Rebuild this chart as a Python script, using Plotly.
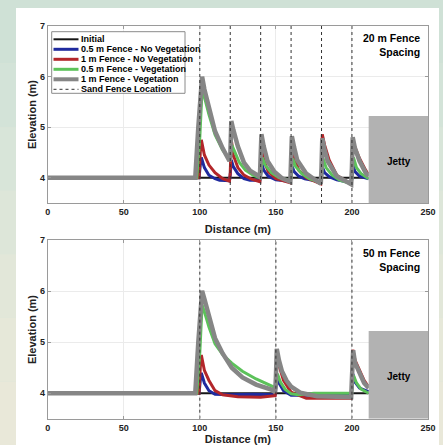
import plotly.graph_objects as go

W, H = 443, 445

# ---------------- data ----------------
x_init = [0, 211]
y_init = [4.0, 4.0]

# 20 m fence spacing
fence20 = [100, 120, 140, 160, 180, 200]
x20_gray = [0, 97, 99, 101.5, 103, 106, 110, 115, 119.5, 120, 120.7, 122, 125, 129, 133, 139.5, 140, 140.5, 142,
            144.5, 149, 154, 159.5, 160, 160.5, 162, 164, 170, 179.5, 180, 180.5, 182, 184, 190, 199.5, 200, 200.5,
            202, 205, 209, 211]
y20_gray = [4.0, 4.0, 5.0, 6.0, 5.75, 5.37, 4.92, 4.58, 4.33, 4.4, 5.12, 4.95, 4.62, 4.3, 4.14, 4.02, 4.3, 4.86, 4.62,
            4.33, 4.12, 3.99, 3.92, 4.2, 4.82, 4.6, 4.35, 4.08, 3.88, 4.2, 4.78, 4.55, 4.33, 4.03, 3.87, 4.2, 4.8,
            4.58, 4.33, 4.1, 4.03]
x20_green = [0, 98, 100, 101.5, 103, 106, 110, 115, 119.5, 120, 121, 123, 126, 130, 135, 139.5, 140, 141, 143, 147,
             152, 159.5, 160, 161, 163, 167, 172, 179.5, 180, 181, 183, 187, 192, 199.5, 200, 201, 203, 206, 211]
y20_green = [4.0, 4.0, 4.8, 5.75, 5.6, 5.25, 4.85, 4.55, 4.36, 4.4, 4.65, 4.5, 4.3, 4.15, 4.05, 4.0, 4.05, 4.4, 4.25,
             4.1, 4.0, 3.95, 4.0, 4.38, 4.22, 4.08, 3.98, 3.9, 4.0, 4.38, 4.2, 4.05, 3.95, 3.88, 4.0, 4.4, 4.2, 4.08,
             3.98]
x20_red = [0, 99.5, 100.3, 101, 103, 106, 110, 115, 119.5, 120, 120.7, 122, 125, 129, 134, 139.5, 140, 140.5, 142,
           145, 150, 159.5, 160, 160.5, 162, 165, 170, 179.5, 180, 180.5, 182, 185, 190, 199.5, 200, 200.5, 202, 205,
           209, 211]
y20_red = [4.0, 4.0, 4.5, 4.75, 4.45, 4.25, 4.1, 3.98, 3.93, 4.1, 4.75, 4.45, 4.2, 4.05, 3.97, 3.92, 4.1, 4.58, 4.35,
           4.12, 3.98, 3.9, 4.1, 4.6, 4.4, 4.15, 4.0, 3.88, 4.1, 4.86, 4.65, 4.35, 4.05, 3.87, 4.1, 4.75, 4.6, 4.38,
           4.15, 4.05]
x20_blue = [0, 99.5, 100.3, 101, 103, 106, 110, 113, 119.5, 120, 120.7, 122, 125, 129, 133, 139.5, 140, 140.7, 142,
            145, 150, 159.5, 160, 160.7, 162, 165, 169, 179.5, 180, 180.7, 182, 185, 190, 199.5, 200, 200.7, 202, 205,
            211]
y20_blue = [4.0, 4.0, 4.25, 4.4, 4.2, 4.05, 3.98, 3.95, 3.94, 4.05, 4.35, 4.22, 4.08, 3.98, 3.95, 3.95, 4.05, 4.28,
            4.15, 4.03, 3.96, 3.93, 4.03, 4.22, 4.12, 4.03, 3.98, 3.92, 4.0, 4.2, 4.1, 4.02, 3.96, 3.9, 4.0, 4.25,
            4.12, 4.03, 3.98]

# 50 m fence spacing
fence50 = [100, 150, 200]
x50_gray = [0, 97, 99, 101.5, 103, 106, 110, 115, 121, 128, 137, 147, 149.5, 150, 150.6, 152, 154, 157, 160, 166, 177,
            190, 199.5, 200, 200.8, 202, 205, 208, 211]
y50_gray = [4.0, 4.0, 5.0, 6.01, 5.85, 5.5, 5.08, 4.78, 4.5, 4.31, 4.17, 4.07, 4.02, 4.3, 4.87, 4.65, 4.43, 4.25,
            4.13, 4.01, 3.94, 3.93, 3.92, 4.3, 4.84, 4.6, 4.38, 4.2, 4.1]
x50_green = [0, 98, 100, 101.5, 103, 106, 110, 115, 121, 128, 137, 148, 149.8, 150.3, 151, 153, 156, 160, 165, 175,
             190, 199.8, 200.3, 201, 203, 206, 211]
y50_green = [4.0, 4.0, 4.8, 5.73, 5.6, 5.3, 4.97, 4.76, 4.59, 4.43, 4.28, 4.13, 4.08, 4.2, 4.38, 4.22, 4.08, 3.99,
             3.97, 4.0, 4.0, 4.0, 4.2, 4.35, 4.2, 4.08, 4.0]
x50_red = [0, 99.5, 100.3, 101, 103, 106, 110, 115, 125, 140, 149.5, 150, 150.6, 152, 155, 160, 170, 185, 199.5, 200,
           200.6, 202, 205, 208, 211]
y50_red = [4.0, 4.0, 4.5, 4.75, 4.45, 4.25, 4.05, 3.97, 3.93, 3.92, 3.95, 4.2, 4.82, 4.55, 4.25, 4.02, 3.9, 3.9, 3.9,
           4.2, 4.85, 4.65, 4.45, 4.25, 4.12]
x50_blue = [0, 99.5, 100.3, 101, 103, 106, 110, 120, 135, 149.5, 150, 150.6, 152, 155, 160, 170, 185, 199.5, 200,
            200.6, 202, 205, 211]
y50_blue = [4.0, 4.0, 4.25, 4.4, 4.2, 4.05, 3.98, 3.97, 3.98, 3.97, 4.1, 4.38, 4.2, 4.05, 3.96, 3.96, 3.98, 3.97, 4.1,
            4.38, 4.22, 4.1, 4.03]

jetty_x = [211, 250]
jetty_y = [3.5, 5.22]
y_range = [3.5, 7]
x_range = [0, 250]
x_ticks = [0, 50, 100, 150, 200, 250]
y_ticks = [4, 5, 6, 7]

series_names = ["Initial", "0.5 m Fence - No Vegetation", "1 m Fence - No Vegetation",
                "0.5 m Fence - Vegetation", "1 m Fence - Vegetation", "Sand Fence Location"]
colors = ["#161616", "#1f2a9e", "#b3262a", "#5cc25a", "#868686", "#333333"]
widths = [2, 3, 3, 3, 4.5, 1]

FONT = "Liberation Sans, Arial, sans-serif"

# ---------------- figure ----------------
fig = go.Figure()


def add_panel(xa, ya, fences, data):
    fx, fy = [], []
    for f in fences:
        fx += [f, f, None]
        fy += [y_range[0], y_range[1], None]
    fig.add_trace(go.Scatter(x=x_init, y=y_init, mode="lines", xaxis=xa, yaxis=ya, showlegend=False,
                             line=dict(color=colors[0], width=widths[0]), name=series_names[0]))
    for i, (xs, ys) in enumerate(data):
        fig.add_trace(go.Scatter(x=xs, y=ys, mode="lines", xaxis=xa, yaxis=ya, showlegend=False,
                                 line=dict(color=colors[i + 1], width=widths[i + 1]), name=series_names[i + 1]))
    fig.add_trace(go.Scatter(x=fx, y=fy, mode="lines", xaxis=xa, yaxis=ya, showlegend=False,
                             line=dict(color=colors[5], width=widths[5], dash="dot"), name=series_names[5]))


add_panel("x", "y", fence20, [(x20_blue, y20_blue), (x20_red, y20_red), (x20_green, y20_green),
                              (x20_gray, y20_gray)])
add_panel("x2", "y2", fence50, [(x50_blue, y50_blue), (x50_red, y50_red), (x50_green, y50_green),
                                (x50_gray, y50_gray)])


def px(x):
    return x / W


def py(y):
    return 1 - y / H


shapes = []
bands = ["#cfe1d6", "#d3e3d8", "#d8e5d9", "#dde6d9", "#e2e7d9", "#e6e8d9", "#e9e8d9"]
n = len(bands)
for i, c in enumerate(bands):
    shapes.append(dict(type="rect", xref="paper", yref="paper", x0=0, x1=1,
                       y0=1 - (i + 1) / n, y1=1 - i / n, fillcolor=c, line=dict(width=0), layer="below"))
shapes.append(dict(type="rect", xref="paper", yref="paper", x0=px(16), x1=px(439), y0=0, y1=py(8),
                   fillcolor="white", line=dict(width=0), layer="below"))
for xr, yr in (("x", "y"), ("x2", "y2")):
    shapes.append(dict(type="rect", xref=xr, yref=yr, x0=jetty_x[0], x1=jetty_x[1], y0=jetty_y[0], y1=jetty_y[1],
                       fillcolor="#b2b2b2", line=dict(width=0), layer="above"))

# custom legend
lg_x0, lg_x1, lg_y0, lg_y1 = 51.7, 185, 31.7, 93.3
shapes.append(dict(type="rect", xref="paper", yref="paper", x0=px(lg_x0), x1=px(lg_x1), y0=py(lg_y1), y1=py(lg_y0),
                   fillcolor="white", line=dict(color="#8a8a8a", width=1), layer="above"))
annotations = []
for i, name in enumerate(series_names):
    yy = 39.3 + 10 * i
    shapes.append(dict(type="line", xref="paper", yref="paper", x0=px(53.5), x1=px(78.5), y0=py(yy), y1=py(yy),
                       line=dict(color=colors[i], width=min(widths[i], 4), dash="dot" if i == 5 else "solid"),
                       layer="above"))
    annotations.append(dict(xref="paper", yref="paper", x=px(79), y=py(yy), xanchor="left", yanchor="middle",
                            text=name, showarrow=False, font=dict(family=FONT, size=9, color="black",
                                                                    weight="bold")))

for xr, yr, txt in (("x domain", "y domain", "20 m Fence<br>Spacing"), ("x2 domain", "y2 domain",
                                                                         "50 m Fence<br>Spacing")):
    annotations.append(dict(xref=xr, yref=yr, x=0.985, y=0.975, xanchor="right", yanchor="top", align="right",
                            text=txt, showarrow=False,
                            font=dict(family=FONT, size=10.5, color="black", weight="bold")))
for xr, yr in (("x", "y"), ("x2", "y2")):
    annotations.append(dict(xref=xr, yref=yr, x=231, y=4.33, text="Jetty", showarrow=False,
                            font=dict(family=FONT, size=10, color="black", weight="bold")))

axis_common = dict(showline=True, linecolor="#9a9a9a", linewidth=1, mirror="ticks", ticks="inside", ticklen=3,
                   tickcolor="#9a9a9a", showgrid=True, gridcolor="#ebebeb", gridwidth=1, zeroline=False,
                   automargin=False,
                   tickfont=dict(family=FONT, size=9, color="#222222", weight="bold"))
xdom = [px(47.7), px(428)]
title_font = dict(family=FONT, size=11, color="#222222", weight="bold")

fig.update_layout(
    template="none",
    width=W, height=H, margin=dict(l=0, r=0, t=0, b=0, pad=0),
    paper_bgcolor="#d8e5d9", plot_bgcolor="white",
    showlegend=False,
    shapes=shapes, annotations=annotations,
    xaxis=dict(domain=xdom, range=x_range, tickvals=x_ticks, anchor="y",
               title=dict(text="Distance (m)", font=title_font, standoff=9), **axis_common),
    yaxis=dict(domain=[py(203), py(26)], range=y_range, tickvals=y_ticks, anchor="x",
               title=dict(text="Elevation (m)", font=title_font, standoff=1), **axis_common),
    xaxis2=dict(domain=xdom, range=x_range, tickvals=x_ticks, anchor="y2",
                title=dict(text="Distance (m)", font=title_font, standoff=11), **axis_common),
    yaxis2=dict(domain=[py(418.7), py(240.3)], range=y_range, tickvals=y_ticks, anchor="x2",
                title=dict(text="Elevation (m)", font=title_font, standoff=1), **axis_common),
)

fig.write_html("out.html", config={"displayModeBar": False},
               post_script="document.body.style.margin='0';document.body.style.overflow='hidden';")
